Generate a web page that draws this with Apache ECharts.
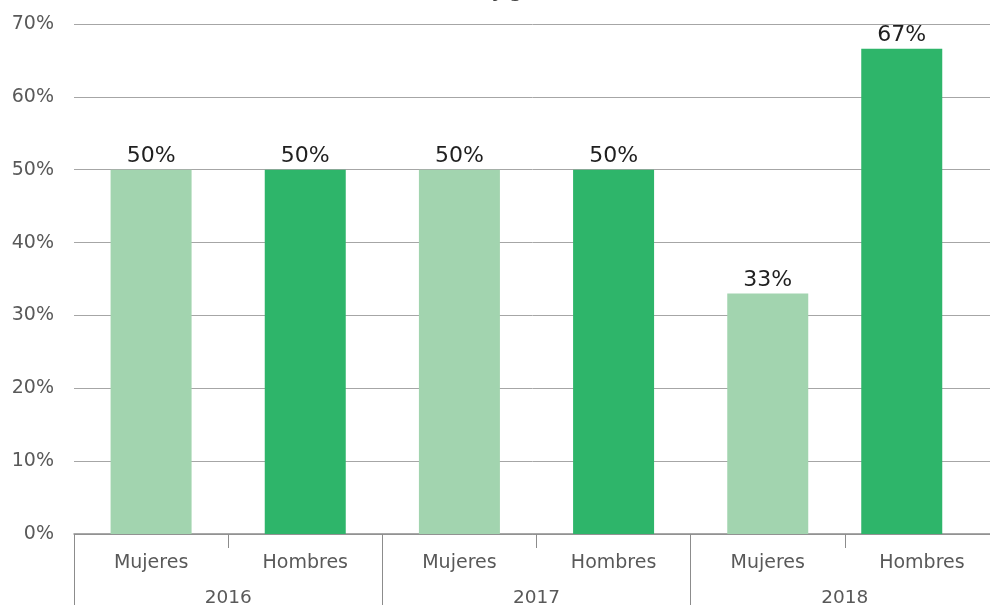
<!DOCTYPE html>
<html>
<head>
<meta charset="utf-8">
<script src="https://cdn.jsdelivr.net/npm/echarts@6/dist/echarts.min.js"></script>
<style>
  html, body { margin: 0; padding: 0; background: #fff; }
  #chart { width: 990px; height: 605px; }
</style>
</head>
<body>
<div id="chart"></div>
<script>
// datos
var years = ['2016', '2017', '2018'];
var sexes = ['Mujeres', 'Hombres'];
var mujeres = [50, 50, 33];
var hombres = [50, 50, 66.6];
var yTicks = [0, 10, 20, 30, 40, 50, 60, 70];

var colMujeres = '#a2d4af';
var colHombres = '#2eb56a';

// categorias de 2 niveles -> una lista plana
var cats = [];
var vals = [];
for (var i = 0; i < years.length; i++) {
  cats.push(sexes[0]);
  vals.push({ value: mujeres[i], itemStyle: { color: colMujeres } });
  cats.push(sexes[1]);
  vals.push({ value: hombres[i], itemStyle: { color: colHombres } });
}
// la ultima barra del original esta algo desplazada a la izquierda,
// se dibuja en una segunda rejilla (oculta) un poco mas estrecha
var last = vals.length - 1;
var valsMain = vals.map(function (v, k) { return k === last ? '-' : v; });
var valsLast = vals.map(function (v, k) { return k === last ? v : '-'; });

var font = 'DejaVu Sans, Verdana, sans-serif';
var barLabel = {
  show: true,
  position: 'top',
  distance: 2,
  color: '#1f1f1f',
  fontFamily: font,
  fontSize: 22,
  formatter: function (p) { return Math.round(p.value) + '%'; }
};

var myChart = echarts.init(document.getElementById('chart'));
myChart.setOption({
  animation: false,
  title: {
    text: 'Sexo y género',
    left: 431,
    top: -22,
    textStyle: { fontFamily: font, fontSize: 18, fontWeight: 'bold', color: '#404040' }
  },
  grid: [
    { left: 74, width: 925, top: 24, bottom: 71, containLabel: false, outerBoundsMode: 'none' },
    { left: 74, width: 903, top: 24, bottom: 71, containLabel: false, outerBoundsMode: 'none' }
  ],
  xAxis: [{
    type: 'category',
    gridIndex: 0,
    data: cats,
    position: 'bottom',
    axisLine: { lineStyle: { color: '#8c8c8c', width: 1.5 } },
    axisTick: { show: true, interval: 0, length: 14, lineStyle: { color: '#8c8c8c' } },
    axisLabel: { interval: 0, margin: 20, color: '#595959', fontFamily: font, fontSize: 19 }
  }, {
    type: 'category',
    gridIndex: 0,
    data: years,
    position: 'bottom',
    axisLine: { show: false },
    axisTick: { show: true, interval: 0, length: 75, lineStyle: { color: '#8c8c8c' } },
    axisLabel: { interval: 0, margin: 55, color: '#595959', fontFamily: font, fontSize: 18.5 }
  }, {
    type: 'category',
    gridIndex: 1,
    data: cats,
    show: false
  }],
  yAxis: [{
    type: 'value',
    gridIndex: 0,
    min: yTicks[0],
    max: yTicks[yTicks.length - 1],
    interval: 10,
    axisLine: { show: false },
    axisTick: { show: false },
    splitLine: { lineStyle: { color: '#a6a6a6', width: 1 } },
    axisLabel: { margin: 20, color: '#595959', fontFamily: font, fontSize: 19, formatter: '{value}%' }
  }, {
    type: 'value',
    gridIndex: 1,
    min: yTicks[0],
    max: yTicks[yTicks.length - 1],
    show: false,
    splitLine: { show: false }
  }],
  series: [{
    type: 'bar',
    xAxisIndex: 0,
    yAxisIndex: 0,
    data: valsMain,
    barWidth: 81,
    label: barLabel
  }, {
    type: 'bar',
    xAxisIndex: 2,
    yAxisIndex: 1,
    data: valsLast,
    barWidth: 81,
    label: barLabel
  }]
});
</script>
</body>
</html>
